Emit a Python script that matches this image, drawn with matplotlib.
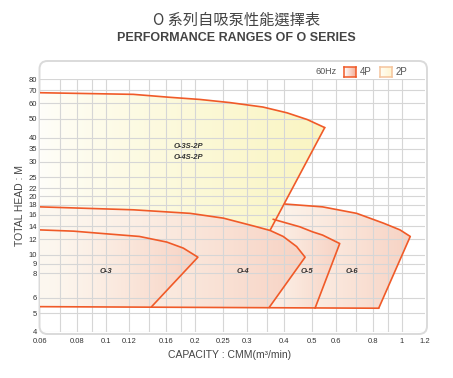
"""
O 系列自吸泵性能選擇表 - performance ranges chart
"""

import matplotlib
matplotlib.use('Agg')
import matplotlib.pyplot as plt
from matplotlib.patches import Polygon, FancyBboxPatch
from matplotlib.colors import to_rgb
import numpy as np

plt.rcParams['font.family'] = ['Liberation Sans', 'DejaVu Sans']

# ---- axis ticks / grid ----
x_ticks = [0.06, 0.08, 0.1, 0.12, 0.16, 0.2, 0.25, 0.3, 0.4, 0.5, 0.6, 0.8, 1, 1.2]
x_tick_labels = ['0.06', '0.08', '0.1', '0.12', '0.16', '0.2', '0.25', '0.3',
                 '0.4', '0.5', '0.6', '0.8', '1', '1.2']
x_grid = [0.07, 0.08, 0.09, 0.1, 0.12, 0.14, 0.16, 0.18, 0.2, 0.25, 0.3, 0.35,
          0.4, 0.5, 0.6, 0.7, 0.8, 0.9, 1.0]
y_ticks = [4, 5, 6, 8, 9, 10, 12, 14, 16, 18, 20, 22, 25, 30, 35, 40, 50, 60, 70, 80]

# ---- performance ranges ----
# 2P (O-3S-2P / O-4S-2P)
p2_top_x = [0.06, 0.124, 0.165, 0.208, 0.263, 0.34, 0.41, 0.48, 0.55]
p2_top_y = [68, 66.7, 64.4, 62.8, 60.5, 57.4, 53.6, 49.5, 45]
p2_edge_x = [0.55, 0.36]
p2_edge_y = [45, 13.4]
# O-3
o3_top_x = [0.06, 0.078, 0.1, 0.13, 0.161, 0.183, 0.205]
o3_top_y = [13.4, 13.2, 12.8, 12.4, 11.6, 10.8, 9.7]
o3_low = (0.143, 5.4)
# O-4
o4_top_x = [0.06, 0.124, 0.193, 0.25, 0.324, 0.36, 0.398, 0.442, 0.472]
o4_top_y = [17.6, 17.0, 16.3, 15.4, 13.9, 13.3, 12.4, 11.0, 9.7]
o4_low = (0.357, 5.35)
# O-5 (visible part of top curve)
o5_top_x = [0.368, 0.453, 0.5, 0.541, 0.618]
o5_top_y = [15.2, 13.9, 13.1, 12.6, 11.4]
o5_low = (0.51, 5.3)
# O-6
o6_top_x = [0.404, 0.541, 0.705, 0.87, 0.988, 1.07]
o6_top_y = [18.2, 17.6, 16.3, 14.5, 13.4, 12.4]
o6_low = (0.837, 5.3)
# common bottom line
bottom_x = [0.06, 0.837]
bottom_y = [5.4, 5.3]

LINE = '#f05a28'
PINK0, PINK1 = '#fdf8f0', '#f7d2c3'
YEL0, YEL1 = '#fffefa', '#faf5c2'

W, H = 453, 378
fig = plt.figure(figsize=(W / 100, H / 100), dpi=100)


def fx(px):
    return px / W


def fy(py):
    return (H - py) / H


# rounded panel behind the chart
panel = FancyBboxPatch((0.395, 0.44), 3.875, 2.73,
                       boxstyle='round,pad=0,rounding_size=0.08',
                       transform=fig.dpi_scale_trans, facecolor='white',
                       edgecolor='#dadada', linewidth=1.4, zorder=-5)
fig.add_artist(panel)

ax = fig.add_axes([fx(40), fy(332), 385 / W, 253 / H])
ax.set_xscale('log')
ax.set_yscale('log')
ax.set_xlim(0.06, 1.2)
ax.set_ylim(4, 80)
ax.set_autoscale_on(False)
ax.patch.set_alpha(0)
for s in ax.spines.values():
    s.set_visible(False)


def grad_fill(xs, ys, c0, c1, z, power=1.3):
    """polygon filled with a left->right gradient"""
    pts = np.column_stack([xs, ys])
    poly = Polygon(pts, closed=True, facecolor='none', edgecolor='none')
    ax.add_patch(poly)
    ap = ax.transAxes.inverted().transform(ax.transData.transform(pts))
    t = np.linspace(0, 1, 256) ** power
    rgb = (1 - t)[:, None] * np.array(to_rgb(c0)) + t[:, None] * np.array(to_rgb(c1))
    im = ax.imshow(rgb[None, :, :], extent=[ap[:, 0].min(), ap[:, 0].max(),
                                           ap[:, 1].min(), ap[:, 1].max()],
                   transform=ax.transAxes, aspect='auto',
                   interpolation='bilinear', zorder=z)
    im.set_clip_path(poly)


# fills, back to front (hidden parts tucked under upper regions)
grad_fill([0.3] + o6_top_x + [o6_low[0], 0.3],
          [19.2] + o6_top_y + [o6_low[1], 5.3], PINK0, PINK1, 1)
grad_fill([0.3] + o5_top_x + [o5_low[0], 0.3],
          [15.8] + o5_top_y + [o5_low[1], 5.3], PINK0, PINK1, 2)
grad_fill(p2_top_x + [0.33, 0.06], p2_top_y + [10.4, 10.4], YEL0, YEL1, 3, power=0.8)
grad_fill(o4_top_x + [o4_low[0], 0.06], o4_top_y + [o4_low[1], 5.4], PINK0, PINK1, 4)
grad_fill(o3_top_x + [o3_low[0], 0.06], o3_top_y + [o3_low[1], 5.4], PINK0, PINK1, 5)

# grid over the fills
for v in x_grid:
    ax.axvline(v, color='#d6d6d6', lw=0.8, zorder=6)
for v in y_ticks:
    ax.axhline(v, color='#d6d6d6', lw=0.8, zorder=6)

# outlines
kw = dict(color=LINE, lw=1.2, zorder=7, solid_capstyle='round', solid_joinstyle='round')
ax.plot(p2_top_x, p2_top_y, **kw)
ax.plot(p2_edge_x, p2_edge_y, **kw)
ax.plot(o3_top_x + [o3_low[0]], o3_top_y + [o3_low[1]], **kw)
ax.plot(o4_top_x + [o4_low[0]], o4_top_y + [o4_low[1]], **kw)
ax.plot(o5_top_x + [o5_low[0]], o5_top_y + [o5_low[1]], **kw)
ax.plot(o6_top_x + [o6_low[0]], o6_top_y + [o6_low[1]], **kw)
ax.plot(bottom_x, bottom_y, **kw)

# region labels
lab = dict(fontsize=5.5, style='italic', fontweight='bold', color='#333',
           ha='center', va='center', zorder=8)
ax.text(0.19, 36, 'O-3S-2P', **lab)
ax.text(0.19, 31.4, 'O-4S-2P', **lab)
ax.text(0.1, 8.2, 'O-3', **lab)
ax.text(0.29, 8.2, 'O-4', **lab)
ax.text(0.48, 8.2, 'O-5', **lab)
ax.text(0.68, 8.2, 'O-6', **lab)

# ticks
ax.xaxis.set_minor_locator(plt.NullLocator())
ax.set_xticks(x_ticks, x_tick_labels)
ax.yaxis.set_minor_locator(plt.NullLocator())
ax.set_yticks(y_ticks, [str(v) for v in y_ticks])
ax.tick_params(axis='both', length=0, labelsize=5.5, labelcolor='#333')
ax.tick_params(axis='x', pad=4)
ax.tick_params(axis='y', pad=2)

# axis titles
fig.text(fx(20), fy(205), 'TOTAL HEAD : M', rotation=90, ha='center', va='center',
         fontsize=7.5, color='#444')
fig.text(fx(230), fy(355), 'CAPACITY : CMM(m³/min)', ha='center', va='center',
         fontsize=7.5, color='#444')

# titles
fig.text(fx(237), fy(20), 'O 系列自吸泵性能選擇表', ha='center', va='center',
         fontsize=11, color='#444', family=['Noto Sans CJK TC', 'DejaVu Sans'])
fig.text(fx(236), fy(38), 'PERFORMANCE RANGES OF O SERIES', ha='center', va='center',
         fontsize=9, fontweight='bold', color='#444',
         family=['Liberation Sans Narrow', 'Liberation Sans', 'DejaVu Sans'])

# legend
fig.text(fx(316), fy(72), '60Hz', ha='left', va='center', fontsize=6.5, color='#555')
fig.text(fx(360), fy(72), '4P', ha='left', va='center', fontsize=7, color='#555')
fig.text(fx(396), fy(72), '2P', ha='left', va='center', fontsize=7, color='#555')


def legend_box(px, c0, c1, edge):
    lax = fig.add_axes([fx(px), fy(77), 12 / W, 10 / H])
    t = np.linspace(0, 1, 64)
    rgb = (1 - t)[:, None] * np.array(to_rgb(c0)) + t[:, None] * np.array(to_rgb(c1))
    lax.imshow(rgb[None, :, :], aspect='auto', extent=[0, 1, 0, 1])
    lax.set_xticks([])
    lax.set_yticks([])
    for s in lax.spines.values():
        s.set_color(edge)
        s.set_linewidth(1.1)


legend_box(344, '#ffffff', '#f4ad95', LINE)
legend_box(380, '#fffef5', '#fff4cf', '#f5c49c')

fig.savefig('out.png', dpi=100)
